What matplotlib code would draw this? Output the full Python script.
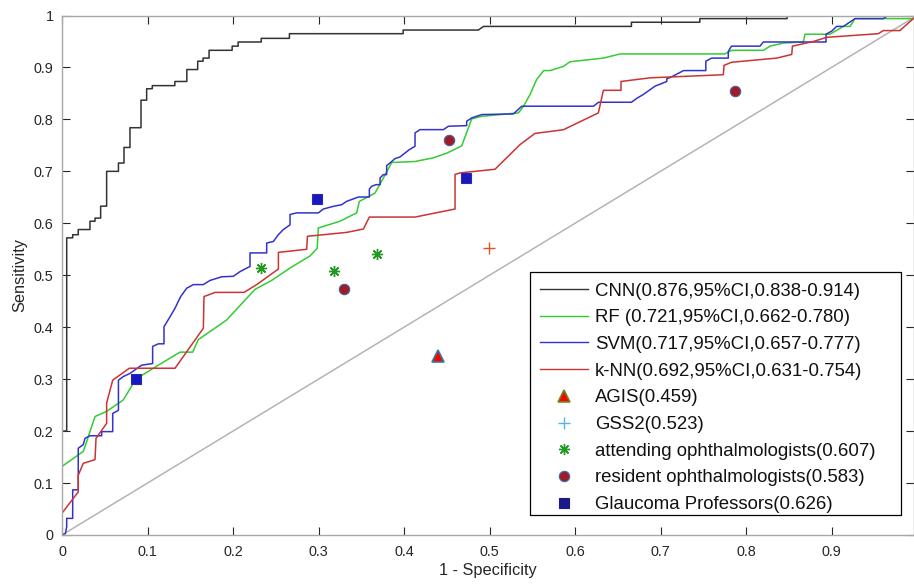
import matplotlib
matplotlib.use("Agg")
import matplotlib.pyplot as plt
from matplotlib.lines import Line2D
from matplotlib.patches import Rectangle

plt.rcParams['font.family'] = ['Liberation Sans', 'DejaVu Sans']

# ROC curves (1 - specificity, sensitivity)
cnn_x = [0, 0, 0.0055, 0.0055, 0.0125, 0.0125, 0.019, 0.019, 0.0327, 0.0327, 0.0386, 0.0386,
         0.0452, 0.0452, 0.0522, 0.0522, 0.066, 0.066, 0.0725, 0.0725, 0.0795, 0.0795, 0.0924,
         0.0924, 0.099, 0.099, 0.1056, 0.1056, 0.132, 0.132, 0.146, 0.146, 0.1587, 0.1587, 0.165,
         0.165, 0.172, 0.172, 0.199, 0.199, 0.206, 0.206, 0.233, 0.233, 0.266, 0.266, 0.399,
         0.399, 0.487, 0.493, 0.666, 0.666, 0.746, 0.746, 0.848, 0.848, 1.0]
cnn_y = [0, 0.2, 0.2, 0.572, 0.572, 0.578, 0.578, 0.588, 0.588, 0.604, 0.604, 0.610,
         0.610, 0.633, 0.633, 0.700, 0.700, 0.716, 0.716, 0.746, 0.746, 0.784, 0.784,
         0.837, 0.837, 0.859, 0.859, 0.865, 0.865, 0.873, 0.873, 0.896, 0.896, 0.912, 0.912,
         0.918, 0.918, 0.933, 0.933, 0.941, 0.941, 0.949, 0.949, 0.956, 0.956, 0.965, 0.965,
         0.972, 0.972, 0.979, 0.979, 0.987, 0.987, 0.994, 0.994, 1.0, 1.0]

rf_x = [0, 0, 0.0249, 0.0269, 0.0386, 0.0522, 0.0717, 0.0834, 0.0912, 0.1127, 0.138, 0.1528,
        0.1594, 0.1926, 0.2258, 0.2452, 0.2667, 0.29, 0.2985, 0.2998, 0.3251, 0.3446, 0.3477,
        0.366, 0.3738, 0.3856, 0.4129, 0.4344, 0.45, 0.4675, 0.4792, 0.4909, 0.5338, 0.5397,
        0.5474, 0.5552, 0.5635, 0.5708, 0.5864, 0.5942, 0.6332, 0.6527, 0.7754, 0.7832, 0.8203,
        0.8281, 0.8437, 0.8671, 0.869, 0.8983, 0.9139, 0.9217, 0.9275, 1.0, 1.0]
rf_y = [0, 0.132, 0.161, 0.170, 0.228, 0.238, 0.260, 0.292, 0.305, 0.327, 0.352, 0.352,
        0.376, 0.414, 0.473, 0.490, 0.514, 0.537, 0.552, 0.591, 0.604, 0.620, 0.642,
        0.658, 0.681, 0.717, 0.719, 0.726, 0.735, 0.749, 0.801, 0.806, 0.8125, 0.825,
        0.848, 0.877, 0.894, 0.894, 0.902, 0.911, 0.918, 0.926, 0.926, 0.933, 0.933,
        0.941, 0.947, 0.949, 0.964, 0.964, 0.979, 0.979, 0.994, 0.994, 1.0]

svm_x = [0, 0.004, 0.0055, 0.0055, 0.0125, 0.0125, 0.019, 0.019, 0.0249, 0.0269, 0.0327, 0.0464,
         0.0464, 0.0593, 0.0593, 0.066, 0.066, 0.0717, 0.0795, 0.0932, 0.106, 0.106, 0.1127,
         0.1193, 0.1193, 0.1263, 0.132, 0.1388, 0.1458, 0.1536, 0.1653, 0.1731, 0.1867, 0.2004,
         0.2082, 0.2199, 0.2199, 0.2394, 0.2394, 0.2472, 0.253, 0.2589, 0.2667, 0.2667, 0.2745,
         0.2998, 0.3057, 0.3173, 0.3271, 0.333, 0.3466, 0.3595, 0.3595, 0.3622, 0.3673, 0.372,
         0.372, 0.3758, 0.3797, 0.3797, 0.3836, 0.3895, 0.3953, 0.4062, 0.4129, 0.4129, 0.4187,
         0.4461, 0.4519, 0.4733, 0.4733, 0.4792, 0.4909, 0.528, 0.5377, 0.6216, 0.6275, 0.666,
         0.6727, 0.6799, 0.6936, 0.7073, 0.7073, 0.7131, 0.727, 0.753, 0.753, 0.7598, 0.7793,
         0.7793, 0.783, 0.8164, 0.8203, 0.8936, 0.8936, 0.9003, 0.906, 0.914, 0.9275, 0.9605,
         0.966, 1.0]
svm_y = [0, 0.003, 0.016, 0.032, 0.032, 0.087, 0.087, 0.167, 0.174, 0.186, 0.191, 0.191,
         0.199, 0.199, 0.234, 0.240, 0.298, 0.305, 0.311, 0.327, 0.330, 0.363, 0.368,
         0.368, 0.401, 0.420, 0.436, 0.459, 0.475, 0.482, 0.482, 0.490, 0.497, 0.498,
         0.507, 0.517, 0.543, 0.543, 0.562, 0.565, 0.578, 0.588, 0.597, 0.617, 0.620,
         0.620, 0.6275, 0.6326, 0.6358, 0.6423, 0.6506, 0.6506, 0.6661, 0.6712, 0.6744, 0.6744,
         0.6873, 0.6937, 0.6937, 0.711, 0.7161, 0.7245, 0.7277, 0.7418, 0.7482, 0.774, 0.7803,
         0.7803, 0.7868, 0.788, 0.7964, 0.8029, 0.8093, 0.8106, 0.8254, 0.8254, 0.833, 0.833,
         0.841, 0.848, 0.864, 0.873, 0.878, 0.882, 0.894, 0.894, 0.912, 0.918, 0.918,
         0.931, 0.941, 0.941, 0.949, 0.949, 0.964, 0.970, 0.979, 0.979, 0.994, 0.994,
         1.0, 1.0]

knn_x = [0, 0, 0.019, 0.019, 0.0249, 0.0386, 0.0398, 0.0522, 0.0522, 0.0593, 0.066, 0.0788,
         0.1322, 0.1653, 0.1661, 0.179, 0.2129, 0.2277, 0.2531, 0.2531, 0.2862, 0.287, 0.333,
         0.3525, 0.3595, 0.4129, 0.4597, 0.4597, 0.4655, 0.5064, 0.5357, 0.5532, 0.5863, 0.6273,
         0.6332, 0.6538, 0.6538, 0.6877, 0.7735, 0.7743, 0.7832, 0.8359, 0.8535, 0.8543, 0.8788,
         0.8944, 0.9548, 0.9606, 0.98, 0.9957, 1.0]
knn_y = [0, 0.042, 0.083, 0.115, 0.138, 0.145, 0.186, 0.215, 0.254, 0.298, 0.306, 0.321,
         0.321, 0.398, 0.459, 0.467, 0.467, 0.482, 0.512, 0.544, 0.550, 0.575, 0.5825,
         0.589, 0.612, 0.612, 0.6275, 0.694, 0.697, 0.704, 0.7515, 0.773, 0.780, 0.8125,
         0.856, 0.856, 0.873, 0.880, 0.886, 0.904, 0.910, 0.918, 0.925, 0.941, 0.950,
         0.958, 0.965, 0.971, 0.971, 0.994, 1.0]

# single operating points
agis_x, agis_y = [0.4394], [0.345]
gss2_x, gss2_y = [0.4994], [0.552]
attending_x = [0.2327, 0.3185, 0.3688]
attending_y = [0.5138, 0.5073, 0.5414]
resident_x = [0.3298, 0.4526, 0.7871]
resident_y = [0.4733, 0.7604, 0.854]
prof_x = [0.0862, 0.2986, 0.4725]
prof_y = [0.3006, 0.6474, 0.6879]

labels = ['CNN(0.876,95%CI,0.838-0.914)', 'RF (0.721,95%CI,0.662-0.780)',
          'SVM(0.717,95%CI,0.657-0.777)', 'k-NN(0.692,95%CI,0.631-0.754)',
          'AGIS(0.459)', 'GSS2(0.523)', 'attending ophthalmologists(0.607)',
          'resident ophthalmologists(0.583)', 'Glaucoma Professors(0.626)']

c_cnn = '#333333'
c_rf = '#33cc33'
c_svm = '#3333cc'
c_knn = '#cc3333'
asterisk = (8, 2, 0)

fig = plt.figure(figsize=(9.14, 5.87), dpi=100)
ax = fig.add_axes([62 / 914, 52 / 587, 852 / 914, 519.5 / 587])

ax.plot([0, 1], [0, 1], color='#b4b4b4', lw=1.1)
ax.plot(cnn_x, cnn_y, color=c_cnn, lw=1.1)
ax.plot(rf_x, rf_y, color=c_rf, lw=1.1)
ax.plot(svm_x, svm_y, color=c_svm, lw=1.1)
ax.plot(knn_x, knn_y, color=c_knn, lw=1.1)

ax.plot(agis_x, agis_y, ls='none', marker='^', ms=8.5, mfc='#ff0000', mec='#2a7fa0', mew=1.2)
ax.plot(gss2_x, gss2_y, ls='none', marker='+', ms=9, mec='#d9541e', mew=1.0)
ax.plot(attending_x, attending_y, ls='none', marker=asterisk, ms=8, mec='#229922', mew=1.0)
ax.plot(resident_x, resident_y, ls='none', marker='o', ms=7.5, mfc='#a01c24', mec='#4a5fa0', mew=0.8)
ax.plot(prof_x, prof_y, ls='none', marker='s', ms=6.5, mfc='#1818c0', mec='#2a2ab0', mew=0.8)

ax.set_xlim(0, 852 / 855)
ax.set_ylim(0, 1)
ax.set_xticks([i / 10 for i in range(10)])
ax.set_xticklabels(['0'] + ['0.%d' % i for i in range(1, 10)])
ax.set_yticks([i / 10 for i in range(11)])
ax.set_yticklabels(['0'] + ['0.%d' % i for i in range(1, 10)] + ['1'])
ax.tick_params(direction='in', length=5.8, width=0.8, color='#262626', labelcolor='#262626',
               labelsize=10.4, top=True, right=True)
ax.tick_params(axis='x', pad=7)
ax.tick_params(axis='y', pad=6)
for s in ax.spines.values():
    s.set_color('#a8a8a8')
    s.set_linewidth(1.0)

ax.set_xlabel('1 - Specificity', fontsize=11.8, color='#262626', labelpad=3)
ax.set_ylabel('Sensitivity', fontsize=11.8, color='#262626', labelpad=5)

# legend box drawn by hand to match the original padding
box = Rectangle((530 / 914, 1 - 515 / 587), 371 / 914, 243 / 587, transform=fig.transFigure,
                facecolor='white', edgecolor='black', lw=0.9, zorder=4)
ax.add_patch(box)
box.set_clip_on(False)

handles = [
    Line2D([], [], color=c_cnn, lw=1.0),
    Line2D([], [], color=c_rf, lw=1.0),
    Line2D([], [], color=c_svm, lw=1.0),
    Line2D([], [], color=c_knn, lw=1.0),
    Line2D([], [], ls='none', marker='^', ms=8, mfc='#ff0000', mec='#6b8e23', mew=1.2),
    Line2D([], [], ls='none', marker='+', ms=9, mec='#4db8e8', mew=1.0),
    Line2D([], [], ls='none', marker=asterisk, ms=8, mec='#229922', mew=1.0),
    Line2D([], [], ls='none', marker='o', ms=7.5, mfc='#a01c24', mec='#3a6ec0', mew=0.8),
    Line2D([], [], ls='none', marker='s', ms=6.5, mfc='#1a1a8a', mec='#1a1a8a', mew=0.8),
]
leg = ax.legend(handles, labels, loc='upper left', bbox_to_anchor=(540 / 914, 1 - 282.5 / 587),
                bbox_transform=fig.transFigure, frameon=False, fontsize=13.4, borderpad=0,
                borderaxespad=0, handlelength=2.58, handletextpad=0.37, labelspacing=0.52)
leg.set_zorder(5)
for t in leg.get_texts():
    t.set_color('#111111')

fig.savefig('out.png', dpi=100)
